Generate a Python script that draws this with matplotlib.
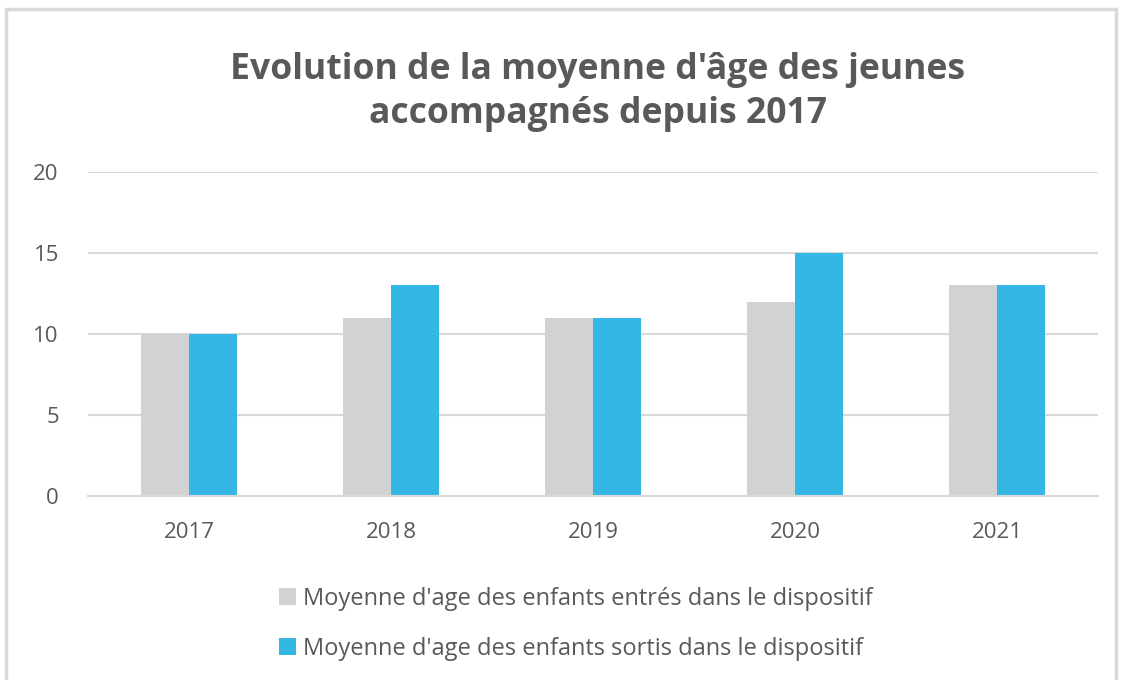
import matplotlib.pyplot as plt
import matplotlib.patches as mpatches
import numpy as np

plt.rcParams['font.family'] = ['Open Sans', 'DejaVu Sans']

# Data
years = ["2017", "2018", "2019", "2020", "2021"]
entres = [10, 11, 11, 12, 13]
sortis = [10, 13, 11, 15, 13]
labels = ["Moyenne d'age des enfants entrés dans le dispositif",
          "Moyenne d'age des enfants sortis dans le dispositif"]
yticks = [0, 5, 10, 15, 20]

grey = "#D0D2D3"
blue = "#35B7E6"
text_col = "#595959"

fig = plt.figure(figsize=(11.26, 6.8), dpi=100)

# outer frame like the Excel chart area
fig.patches.append(mpatches.Rectangle((6 / 1126, -0.02), 1110 / 1126, 1.0 - 9 / 680 + 0.02,
                                      transform=fig.transFigure, fill=False,
                                      edgecolor="#D9D9D9", linewidth=2.5))

ax = fig.add_axes([88 / 1126, 1 - 496 / 680, 1010 / 1126, 324 / 680])

x = np.arange(len(years))
w = 0.238
b1 = ax.bar(x - w / 2, entres, w, color=grey, label=labels[0], zorder=2)
b2 = ax.bar(x + w / 2, sortis, w, color=blue, label=labels[1], zorder=2)

ax.set_xlim(-0.5, len(years) - 0.5)
ax.set_ylim(0, 20)
ax.set_yticks(yticks)
ax.set_xticks(x)
ax.set_xticklabels(years)
ax.grid(axis="y", color="#D9D9D9", linewidth=1.5, zorder=0)
for s in ["top", "right", "left"]:
    ax.spines[s].set_visible(False)
ax.spines["bottom"].set_color("#D9D9D9")
ax.spines["bottom"].set_linewidth(1.5)
ax.tick_params(axis="both", length=0, labelsize=16, labelcolor=text_col)
ax.tick_params(axis="y", pad=21)
ax.tick_params(axis="x", pad=19)

fig.text(0.531, 0.865, "Evolution de la moyenne d'âge des jeunes\naccompagnés depuis 2017",
         ha="center", va="center", fontsize=25.6, fontweight="bold", color=text_col,
         linespacing=1.3)

fig.legend(handles=[b1, b2], loc="upper left", bbox_to_anchor=(279 / 1126, 1 - 587 / 680),
           frameon=False, fontsize=17, labelcolor=text_col, handlelength=0.72,
           handleheight=0.72, handletextpad=0.3, labelspacing=1.1, borderpad=0,
           borderaxespad=0)

fig.savefig("out.png", dpi=100)
